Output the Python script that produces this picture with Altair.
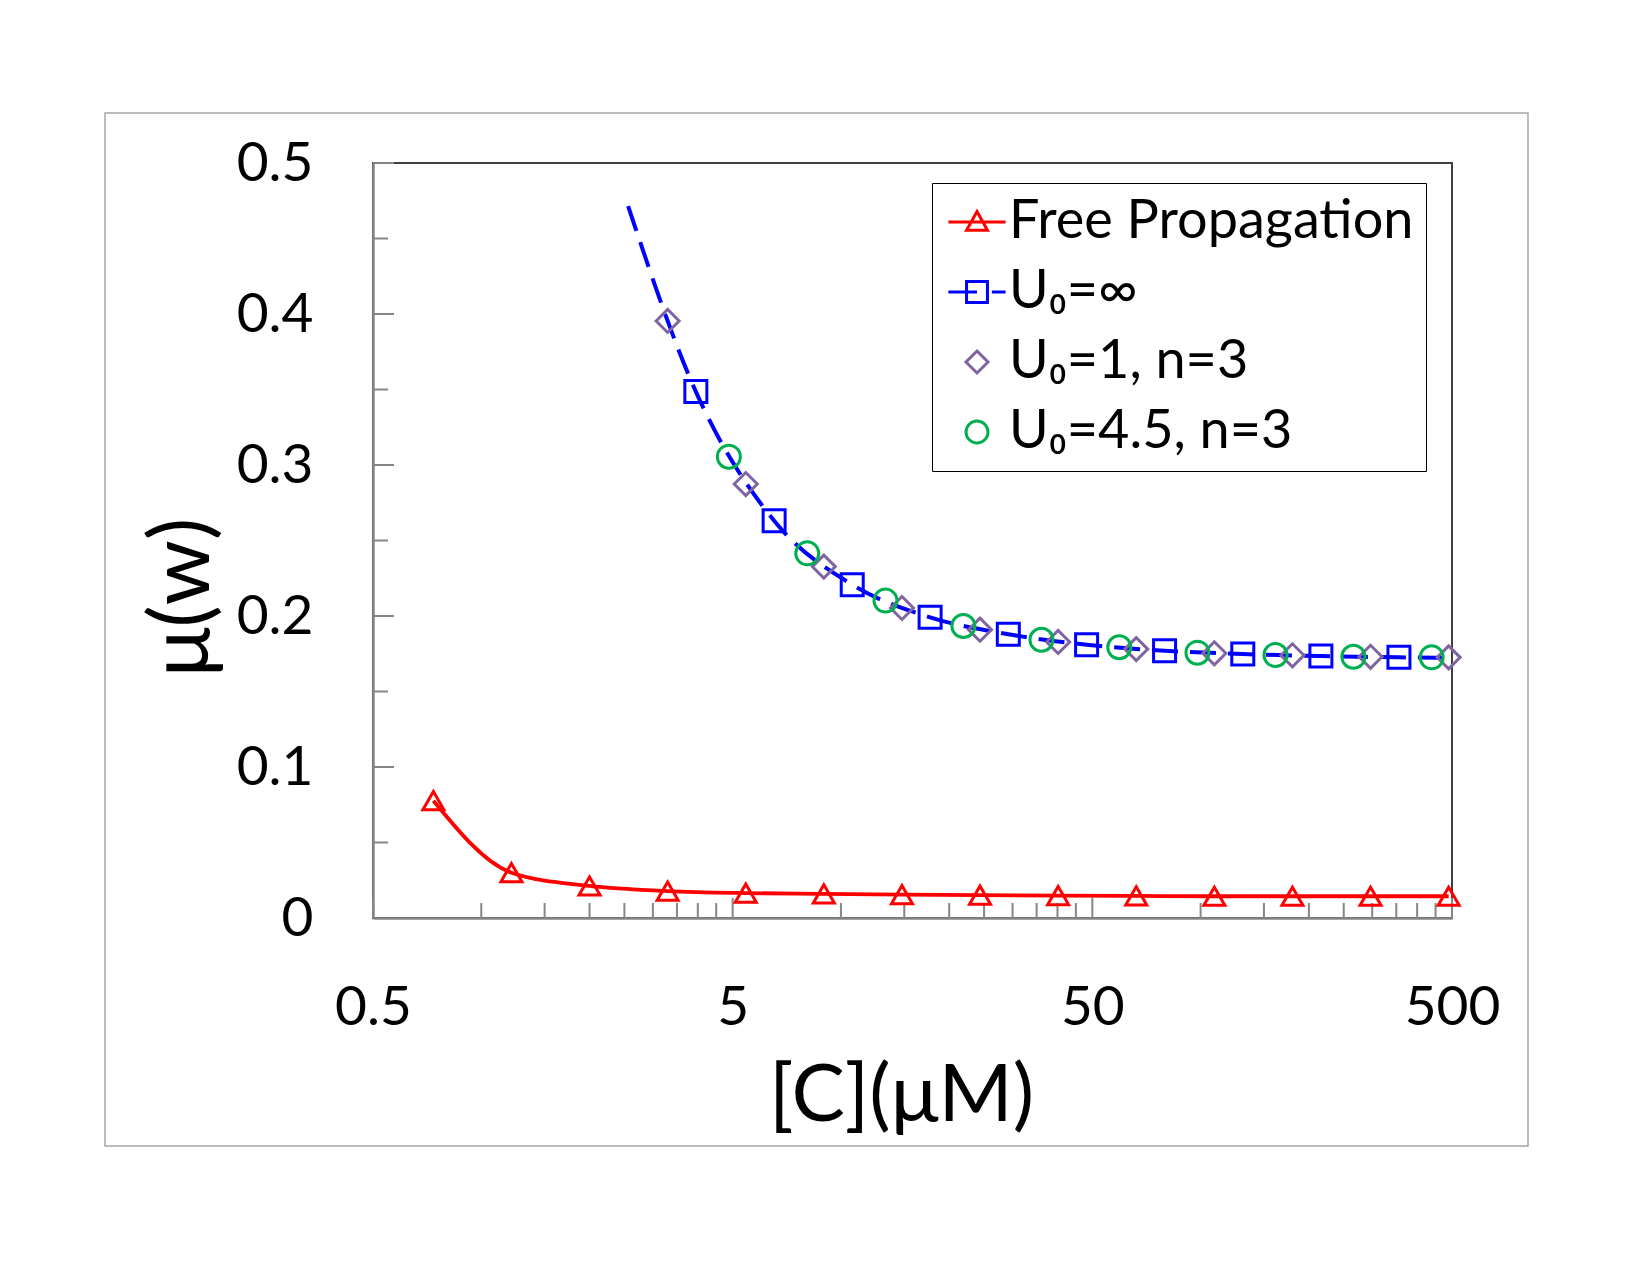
import altair as alt
import pandas as pd

# ---------------- data ----------------
SERIES = ["Free Propagation", "U₀=∞", "U₀=1, n=3", "U₀=4.5, n=3"]
COLORS = ["#FF0000", "#0000FF", "#8064A2", "#00B050"]

RED_X = [0.736, 1.213, 2.0, 3.297, 5.437, 8.963, 14.78, 24.36, 40.17, 66.23, 109.2, 180.0, 296.8, 489.4]
RED_Y = [0.0777, 0.0300, 0.0212, 0.0178, 0.0165, 0.0160, 0.0155, 0.0151, 0.0148, 0.0146, 0.0144, 0.0144, 0.0144, 0.0144]

BLUE_LINE_X = [2.56, 3.95, 6.52, 10.75, 17.7, 29.2, 48.2, 79.4, 131.0, 216.0, 356.0, 500.0]
BLUE_LINE_Y = [0.4715, 0.3486, 0.2631, 0.2207, 0.1991, 0.1879, 0.1810, 0.1770, 0.1748, 0.1735, 0.1726, 0.1722]

SQUARE_X = [3.95, 6.52, 10.75, 17.7, 29.2, 48.2, 79.4, 131.0, 216.0, 356.0]
SQUARE_Y = [0.3486, 0.2631, 0.2207, 0.1991, 0.1879, 0.1810, 0.1770, 0.1748, 0.1735, 0.1726]

DIAMOND_X = [3.297, 5.437, 8.963, 14.78, 24.36, 40.17, 66.23, 109.2, 180.0, 296.8, 489.4]
DIAMOND_Y = [0.3954, 0.2874, 0.2327, 0.2053, 0.1909, 0.1828, 0.1781, 0.1753, 0.1740, 0.1730, 0.1726]

CIRCLE_X = [4.88, 8.06, 13.3, 21.9, 36.1, 59.4, 98.0, 161.5, 266.0, 439.0]
CIRCLE_Y = [0.3055, 0.2415, 0.2102, 0.1934, 0.1843, 0.1793, 0.1757, 0.1742, 0.1730, 0.1726]

X_LABELS = [0.5, 5, 50, 500]
X_MINOR = [1, 1.5, 2, 2.5, 3, 3.5, 4, 4.5, 10, 15, 20, 25, 30, 35, 40, 45,
           100, 150, 200, 250, 300, 350, 400, 450]
Y_LABELS = [0, 0.1, 0.2, 0.3, 0.4, 0.5]
Y_MAJOR = [0.1, 0.2, 0.3, 0.4, 0.5]
Y_MINOR = [0.05, 0.15, 0.25, 0.35, 0.45]

# legend symbols: marker with its line segment(s)
LEGEND_PATHS = [
    "M-2.6,0H2.6M0,-0.95L0.95,0.75H-0.95Z",
    "M-2.6,0H0M1.35,0H2.6M-0.95,-0.95H0.95V0.95H-0.95Z",
    "M0,-1L1,0L0,1L-1,0Z",
    "M1,0A1,1,0,1,1,-1,0A1,1,0,1,1,1,0Z",
]

# ---------------- layout ----------------
W, H = 1079, 755
FONT = "Lato"
GREY = "#868686"

xscale = alt.Scale(type="log", domain=[0.5, 500], nice=False)
yscale = alt.Scale(domain=[0, 0.5], nice=False, zero=False)

xaxis = alt.Axis(values=X_LABELS, format="~g", ticks=False, tickSize=0, grid=False,
                 domainColor=GREY, domainWidth=2.5, labelFont=FONT, labelFontSize=55,
                 labelColor="black", labelPadding=63, labelFlush=False, labelOverlap=False,
                 title="[C](μM)", titleFont=FONT, titleFontSize=80, titleFontWeight="normal",
                 titleColor="black", titleX=528, titleY=178, titleBaseline="middle",
                 titleAlign="center", titleAnchor="start")
yaxis = alt.Axis(values=Y_LABELS, format="~g", ticks=False, tickSize=0, grid=False,
                 domainColor=GREY, domainWidth=2.5, labelFont=FONT, labelFontSize=55,
                 labelColor="black", labelPadding=60, labelFlush=False, labelOverlap=False,
                 title="μ(w)", titleFont=FONT, titleFontSize=83, titleFontWeight="normal",
                 titleColor="black", titleX=-190, titleY=434, titleAngle=270,
                 titleBaseline="middle", titleAlign="center", titleAnchor="start")

X = lambda: alt.X("x:Q", scale=xscale, axis=xaxis)
Y = lambda: alt.Y("y:Q", scale=yscale, axis=yaxis)

red_df = pd.DataFrame({"x": RED_X, "y": RED_Y})
blue_line_df = pd.DataFrame({"x": BLUE_LINE_X, "y": BLUE_LINE_Y})
square_df = pd.DataFrame({"x": SQUARE_X, "y": SQUARE_Y})
diamond_df = pd.DataFrame({"x": DIAMOND_X, "y": DIAMOND_Y})
circle_df = pd.DataFrame({"x": CIRCLE_X, "y": CIRCLE_Y})
legend_df = pd.DataFrame({"series": SERIES, "x": [1.0] * 4, "y": [0.1] * 4})

# outer chart-area frame
frame = alt.Chart(pd.DataFrame({"k": [0]})).mark_rect(
    fillOpacity=0, stroke="#A6A6A6", strokeWidth=1.5
).encode(x=alt.value(-268), x2=alt.value(1155), y=alt.value(-50), y2=alt.value(983))

# inward tick marks
xminor = alt.Chart(pd.DataFrame({"x": X_MINOR})).mark_rule(color=GREY, strokeWidth=2).encode(
    x=X(), y=alt.value(H), y2=alt.value(H - 15))
xmajor = alt.Chart(pd.DataFrame({"x": X_LABELS})).mark_rule(color=GREY, strokeWidth=2).encode(
    x=X(), y=alt.value(H), y2=alt.value(H - 20))
ymajor = alt.Chart(pd.DataFrame({"y": Y_MAJOR})).mark_rule(color=GREY, strokeWidth=2).encode(
    y=Y(), x=alt.value(0), x2=alt.value(21))
yminor = alt.Chart(pd.DataFrame({"y": Y_MINOR})).mark_rule(color=GREY, strokeWidth=2).encode(
    y=Y(), x=alt.value(0), x2=alt.value(15))

MSW = 3.0
red_line = alt.Chart(red_df).mark_line(color=COLORS[0], strokeWidth=3.8,
                                       interpolate="monotone").encode(x=X(), y=Y())
red_pts = alt.Chart(red_df).mark_point(shape="triangle-up", size=441, filled=False,
                                       color=COLORS[0], strokeWidth=MSW, opacity=1).encode(x=X(), y=Y())
blue_line = alt.Chart(blue_line_df).mark_line(color=COLORS[1], strokeWidth=4.0, strokeDash=[26, 12],
                                              interpolate="monotone").encode(x=X(), y=Y())
squares = alt.Chart(square_df).mark_point(shape="square", size=484, filled=False,
                                          color=COLORS[1], strokeWidth=MSW, opacity=1).encode(x=X(), y=Y())
diamonds = alt.Chart(diamond_df).mark_point(shape="diamond", size=529, filled=False,
                                            color=COLORS[2], strokeWidth=MSW, opacity=1).encode(x=X(), y=Y())
circles = alt.Chart(circle_df).mark_point(shape="circle", size=529, filled=False,
                                          color=COLORS[3], strokeWidth=MSW, opacity=1).encode(x=X(), y=Y())

leg = alt.Legend(title=None, orient="none", legendX=559, legendY=20, padding=12,
                 strokeColor="#000000", fillColor="white", symbolSize=484, symbolStrokeWidth=3.0,
                 symbolOffset=6, labelOffset=5, rowPadding=16, labelFont=FONT,
                 labelFontSize=54, labelColor="black", labelLimit=0, symbolType="circle")
legend_layer = alt.Chart(legend_df).transform_filter("datum.x < 0").mark_point(
    filled=False, strokeWidth=3.0, size=484, opacity=1
).encode(
    x=X(), y=Y(),
    color=alt.Color("series:N", scale=alt.Scale(domain=SERIES, range=COLORS), legend=leg),
    shape=alt.Shape("series:N", scale=alt.Scale(domain=SERIES, range=LEGEND_PATHS), legend=leg),
)

chart = alt.layer(
    frame, xminor, xmajor, ymajor, yminor,
    red_line, red_pts, blue_line, squares, diamonds, circles, legend_layer
).properties(
    width=W, height=H,
    autosize=alt.AutoSizeParams(type="none"),
    padding={"left": 373, "top": 163, "right": 198, "bottom": 357},
    background="white",
).configure_view(stroke="#404040", strokeWidth=2)

chart.save("out.html", embed_options={"renderer": "svg", "actions": False})
